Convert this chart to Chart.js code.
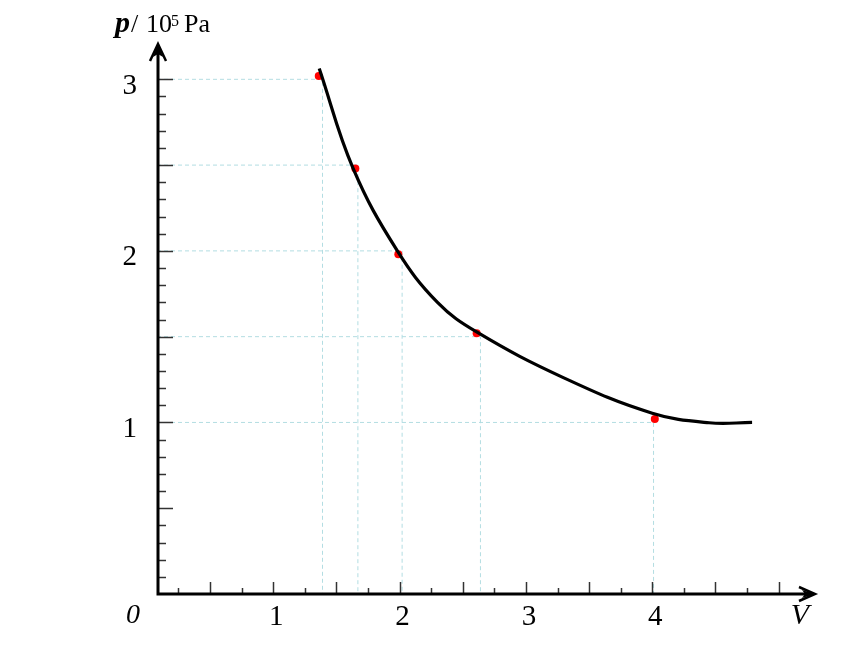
<!DOCTYPE html>
<html>
<head>
<meta charset="utf-8">
<title>p-V</title>
<script src="https://cdn.jsdelivr.net/npm/chart.js@4.4.1/dist/chart.umd.min.js"></script>
<style>
body { margin: 0; background: #fff; }
</style>
</head>
<body>
<canvas id="myChart" width="860" height="645"></canvas>
<script>
// measured points (V, p/10^5 Pa)
var pointV = [1.36, 1.65, 1.99, 2.61, 4.02];
var pointP = [3.02, 2.48, 1.98, 1.52, 1.02];

// fitted curve
var curveV = [1.364, 1.632, 1.98, 2.3, 2.613, 3.3, 4.0, 4.45, 4.79];
var curveP = [3.063, 2.481, 2.003, 1.70, 1.526, 1.26, 1.054, 0.998, 1.0];

// dashed helper lines
var guideV = [1.39, 1.67, 2.02, 2.64, 4.01];
var guideP = [3, 2.5, 2, 1.5, 1];

var xLabels = [1, 2, 3, 4];
var yLabels = [1, 2, 3];

var xMin = 0.08, xMax = 5.28, yMin = 0, yMax = 3.2;

var axesPlugin = {
    id: 'axes',
    afterDraw: function(chart) {
        var ctx = chart.ctx;
        var xs = chart.scales.x, ys = chart.scales.y;
        var ox = chart.chartArea.left + 1;
        var oy = ys.getPixelForValue(0);
        var top = chart.chartArea.top - 1;
        var right = chart.chartArea.right + 1;
        ctx.save();

        // small ticks
        ctx.strokeStyle = '#333';
        ctx.lineWidth = 1.5;
        for (var i = 1; i <= 20; i++) {
            var px = Math.round(xs.getPixelForValue(i * 0.25)) + 0.5;
            var len = (i % 2 == 0) ? 12 : 6;
            ctx.beginPath(); ctx.moveTo(px, oy); ctx.lineTo(px, oy - len); ctx.stroke();
        }
        for (var j = 1; j <= 30; j++) {
            var py = Math.round(ys.getPixelForValue(j / 10)) + 0.5;
            var len2 = (j % 5 == 0) ? 15 : 8;
            ctx.beginPath(); ctx.moveTo(ox, py); ctx.lineTo(ox + len2, py); ctx.stroke();
        }

        // axis lines
        ctx.strokeStyle = '#000';
        ctx.fillStyle = '#000';
        ctx.lineWidth = 3;
        ctx.beginPath();
        ctx.moveTo(ox, oy + 1.5); ctx.lineTo(ox, top + 4);
        ctx.moveTo(ox - 1.5, oy); ctx.lineTo(right - 4, oy);
        ctx.stroke();

        // arrow heads
        ctx.lineWidth = 2.5;
        ctx.beginPath();
        ctx.moveTo(ox - 8, top + 17); ctx.lineTo(ox, top); ctx.lineTo(ox + 8, top + 17);
        ctx.stroke();
        ctx.beginPath();
        ctx.moveTo(ox, top); ctx.lineTo(ox - 5, top + 13); ctx.lineTo(ox, top + 10); ctx.lineTo(ox + 5, top + 13);
        ctx.closePath(); ctx.fill();

        ctx.beginPath();
        ctx.moveTo(right - 16, oy - 7); ctx.lineTo(right, oy); ctx.lineTo(right - 16, oy + 7);
        ctx.stroke();
        ctx.beginPath();
        ctx.moveTo(right, oy); ctx.lineTo(right - 13, oy - 4); ctx.lineTo(right - 10, oy); ctx.lineTo(right - 13, oy + 4);
        ctx.closePath(); ctx.fill();

        // axis names
        ctx.textBaseline = 'middle';
        ctx.textAlign = 'center';
        ctx.font = 'italic 28px "Liberation Serif"';
        ctx.fillText('0', ox - 25, oy + 22);
        ctx.font = 'italic 30px "Liberation Serif"';
        ctx.fillText('V', right - 15, oy + 22);

        ctx.textBaseline = 'alphabetic';
        ctx.textAlign = 'left';
        var bx = ox - 43, by = 32;
        ctx.font = 'bold italic 30px "Liberation Serif"';
        ctx.fillText('p', bx, by);
        ctx.font = '26px "Liberation Serif"';
        ctx.fillText('/', bx + 16, by);
        ctx.fillText('10', bx + 31, by);
        ctx.font = '16px "Liberation Serif"';
        ctx.fillText('5', bx + 56, by - 6);
        ctx.font = '26px "Liberation Serif"';
        ctx.fillText('Pa', bx + 69, by);
        ctx.restore();
    }
};

function createChart() {
    var datasets = [];

    var curve = [];
    for (var i = 0; i < curveV.length; i++) {
        curve.push({ x: curveV[i], y: curveP[i] });
    }
    datasets.push({
        label: 'curve',
        data: curve,
        borderColor: '#000',
        borderWidth: 3.2,
        pointRadius: 0,
        tension: 0.4,
        fill: false,
        order: 0
    });

    var pts = [];
    for (var k = 0; k < pointV.length; k++) {
        pts.push({ x: pointV[k], y: pointP[k] });
    }
    datasets.push({
        label: 'points',
        data: pts,
        showLine: false,
        pointRadius: 4,
        pointBackgroundColor: '#ff0000',
        pointBorderWidth: 0,
        order: 1
    });

    for (var g = 0; g < guideV.length; g++) {
        datasets.push({
            label: 'guide' + g,
            data: [
                { x: xMin, y: guideP[g] },
                { x: guideV[g], y: guideP[g] },
                { x: guideV[g], y: 0 }
            ],
            borderColor: '#b3dde2',
            borderWidth: 1,
            borderDash: [4, 3],
            pointRadius: 0,
            tension: 0,
            order: 2
        });
    }

    var ctx = document.getElementById('myChart').getContext('2d');
    var myChart = new Chart(ctx, {
        type: 'line',
        data: { datasets: datasets },
        options: {
            responsive: false,
            animation: false,
            layout: { padding: { left: 97, right: 46, top: 45, bottom: 11 } },
            plugins: {
                legend: { display: false },
                tooltip: { enabled: false }
            },
            scales: {
                x: {
                    type: 'linear',
                    min: xMin,
                    max: xMax,
                    border: { display: false },
                    grid: { display: false, drawTicks: false },
                    afterFit: function(scale) { scale.height = 40; },
                    afterBuildTicks: function(scale) {
                        scale.ticks = xLabels.map(function(v) { return { value: v }; });
                    },
                    ticks: {
                        padding: 6,
                        labelOffset: 3,
                        color: '#000',
                        maxRotation: 0,
                        font: { family: 'Liberation Serif', size: 29 },
                        callback: function(v) { return String(v); }
                    }
                },
                y: {
                    type: 'linear',
                    min: yMin,
                    max: yMax,
                    border: { display: false },
                    grid: { display: false, drawTicks: false },
                    afterFit: function(scale) { scale.width = 60; },
                    afterBuildTicks: function(scale) {
                        scale.ticks = yLabels.map(function(v) { return { value: v }; });
                    },
                    ticks: {
                        padding: 20,
                        labelOffset: 7,
                        color: '#000',
                        font: { family: 'Liberation Serif', size: 29 },
                        callback: function(v) { return String(v); }
                    }
                }
            }
        },
        plugins: [axesPlugin]
    });
}

createChart();
</script>
</body>
</html>
